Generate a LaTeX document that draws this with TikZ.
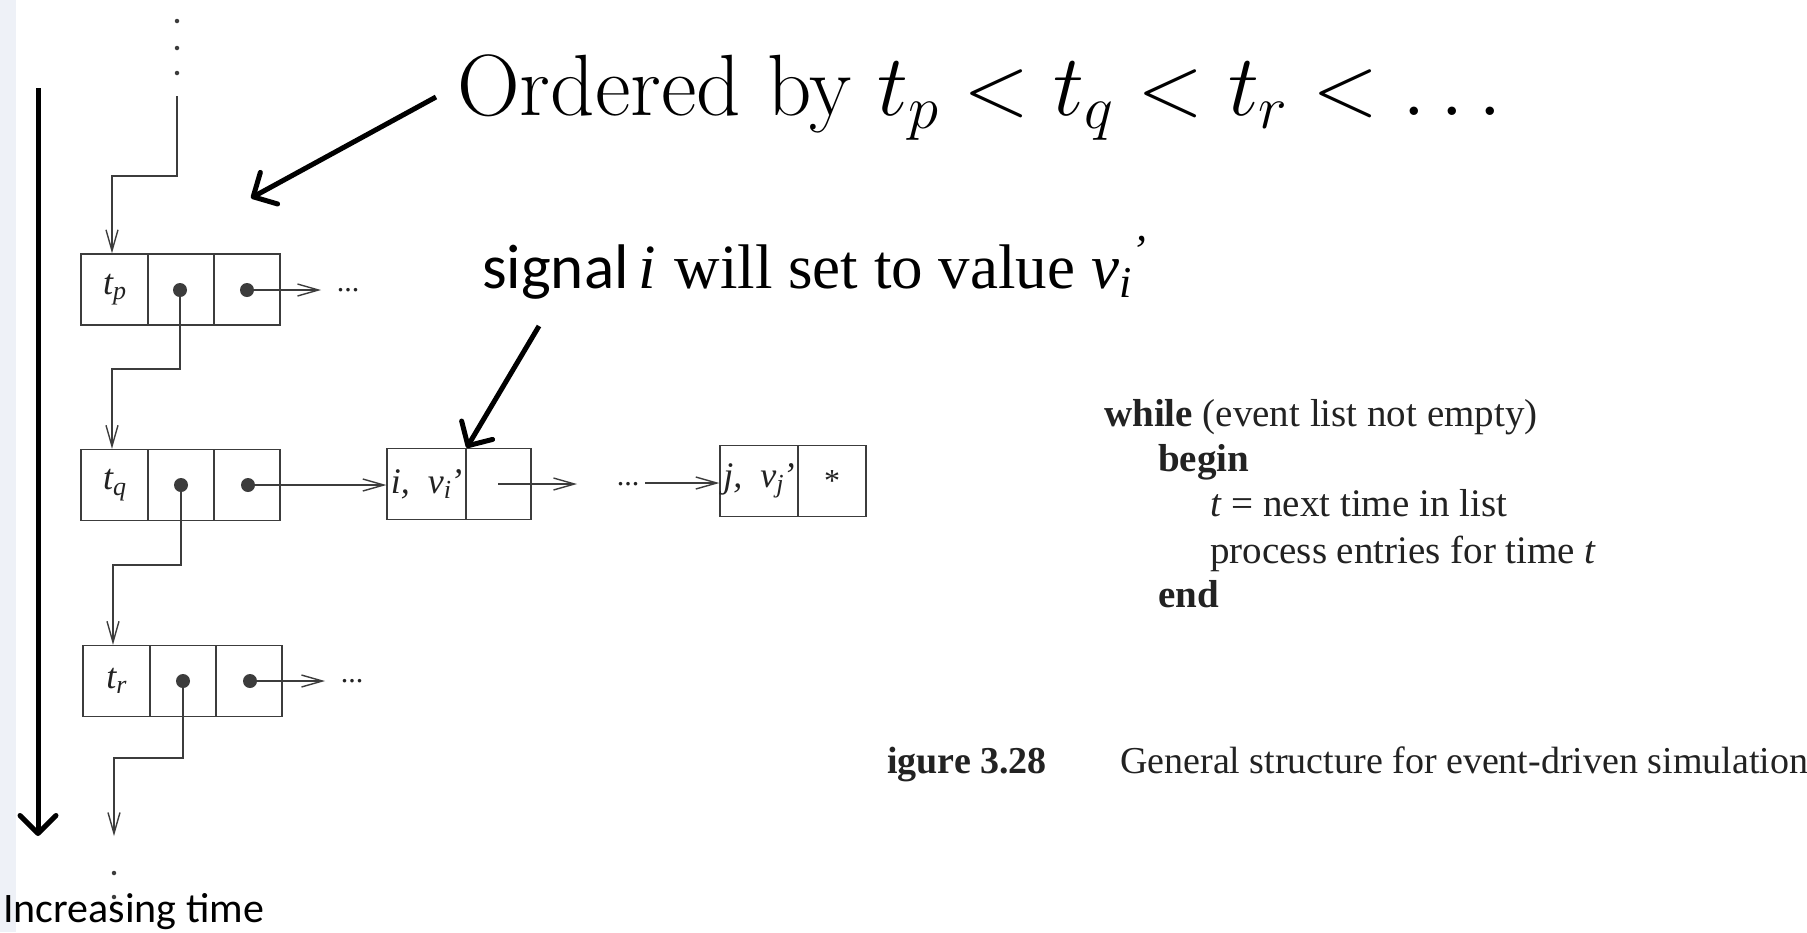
\RequirePackage{fix-cm}
\documentclass[tikz,border=0pt]{standalone}
\usepackage{fontspec}
\newfontfamily\timesf{Liberation Serif}
\newfontfamily\calibrif{Carlito}
\usetikzlibrary{arrows.meta}
\definecolor{ink}{HTML}{3C3C3C}
\definecolor{txt}{HTML}{222222}
\definecolor{strip}{HTML}{EEF1F7}
\newcommand\cellsub[1]{\raisebox{-0.32ex}{\fontsize{26}{26}\selectfont #1}}
\tikzset{
  cell/.style={draw=ink, line width=1.3pt, minimum height=71pt, inner sep=0pt,
    font=\timesf\itshape\fontsize{36}{36}\selectfont, text=txt},
  dotnode/.style={circle, fill=ink, inner sep=0pt, minimum size=14pt},
  smalldot/.style={circle, fill=ink, inner sep=0pt, minimum size=4.5pt},
  link/.style={draw=ink, line width=1.4pt, -{Straight Barb[length=21pt,width=12pt]}},
  fat/.style={draw=black, line width=5pt, -{Straight Barb[length=18pt,width=36pt,round]}},
  ell/.style={font=\timesf\fontsize{30}{30}\selectfont, text=txt, inner sep=0pt},
  codetxt/.style={font=\timesf\fontsize{39}{45}\selectfont, text=txt, anchor=base west, inner sep=0pt},
}
\begin{document}
\begin{tikzpicture}[x=1pt,y=-1pt]
\useasboundingbox (0,0) rectangle (1807,932);
\fill[white] (0,0) rectangle (1807,932);
\fill[strip] (0,0) rectangle (16,932);

% ---- top continuation dots
\node[smalldot] (d1) at (177,21) {};
\node[smalldot] (d2) at (177,48) {};
\node[smalldot] (d3) at (177,73) {};
\coordinate (top) at (177,96);

% ---- tp record
\node[cell, minimum width=67pt] (tp1) at (114.5,289.5) {t\cellsub{p}};
\node[cell, minimum width=66pt] (tp2) at (181,289.5) {};
\node[cell, minimum width=66pt] (tp3) at (247,289.5) {};
\node[dotnode] (tpd2) at (180,290) {};
\node[dotnode] (tpd3) at (247,290) {};
\coordinate (tpe) at (321,290);
\node[ell] (tpdots) at (348,290) {...};

% ---- tq record
\node[cell, minimum width=67pt] (tq1) at (114.5,485) {t\cellsub{q}};
\node[cell, minimum width=66pt] (tq2) at (181,485) {};
\node[cell, minimum width=66pt] (tq3) at (247,485) {};
\node[dotnode] (tqd2) at (181,485) {};
\node[dotnode] (tqd3) at (248,485) {};

% ---- tr record
\node[cell, minimum width=67pt] (tr1) at (116.5,681) {t\cellsub{r}};
\node[cell, minimum width=66pt] (tr2) at (183,681) {};
\node[cell, minimum width=66pt] (tr3) at (249,681) {};
\node[dotnode] (trd2) at (183,681) {};
\node[dotnode] (trd3) at (250,681) {};
\coordinate (tre) at (325,681);
\node[ell] (trdots) at (352,681) {...};

% ---- i / j entries
\node[cell, minimum width=79pt] (i1) at (426.5,484) {i,\ \ v\cellsub{i}\kern-1pt’};
\node[cell, minimum width=65pt] (i2) at (498.5,484) {};
\coordinate (i2s) at (498,484);
\coordinate (i2e) at (577,484);
\node[ell] (mdots) at (628,484) {...};
\coordinate (jst) at (645,483);
\node[cell, minimum width=78pt] (j1) at (759,481) {j,\ \ v\cellsub{j}\kern-1pt’};
\node[cell, minimum width=68pt, font=\timesf\fontsize{32}{32}\selectfont] (j2) at (832,481) {*};

% ---- bottom continuation dots
\node[smalldot] (b1) at (114,873) {};
\node[smalldot] (b2) at (114,897) {};

% ---- connectors
\coordinate (k0) at (112,176);
\draw[link] (top) |- (k0) -- (k0 |- tp1.north);
\coordinate (k1) at (112,369);
\draw[link] (tpd2.center) |- (k1) -- (k1 |- tq1.north);
\coordinate (k2) at (113,565);
\draw[link] (tqd2.center) |- (k2) -- (k2 |- tr1.north);
\coordinate (k3) at (114,758);
\coordinate (k4) at (114,836);
\draw[link] (trd2.center) |- (k3) -- (k4);

\draw[link] (tpd3.center) -- (tpe);
\draw[link] (trd3.center) -- (tre);
\draw[link] (tqd3.center) -- (tqd3.center -| i1.west);
\draw[link] (i2s) -- (i2e);
\draw[link] (jst) -- (jst -| j1.west);

% ---- time axis
\coordinate (ts) at (38,88);
\coordinate (te) at (38,836);
\draw[fat] (ts) -- (te);
\node[anchor=base west, inner sep=0pt, font=\calibrif\fontsize{42}{42}\selectfont] (inc) at (3,922) {Increasing time};

% ---- annotations
\node[anchor=base west, inner sep=0pt, font=\fontsize{87}{90}\selectfont] (ord) at (457,115) {Ordered by $t_p < t_q < t_r < \ldots$};
\coordinate (oa) at (436,97);
\coordinate (ob) at (251,198);
\draw[fat] (oa) -- (ob);

\node[anchor=base west, inner sep=0pt, font=\fontsize{63}{63}\selectfont] (sig) at (482,288)
  {{\calibrif signal}\hspace{0.15em}{\timesf\itshape i} {\timesf will set to value \itshape v\textsubscript{i}\textsuperscript{’}}};
\coordinate (sa) at (539,326);
\draw[fat] (sa) -- (i1.north east);

% ---- pseudo code
\node[codetxt] (c1) at (1104,426) {\textbf{while} (event list not empty)};
\node[codetxt] (c2) at (1158,471) {\textbf{begin}};
\node[codetxt] (c3) at (1210,516) {\textit{t} = next time in list};
\node[codetxt] (c4) at (1210,563) {process entries for time \textit{t}};
\node[codetxt] (c5) at (1158,607) {\textbf{end}};

% ---- caption
\node[codetxt, font=\timesf\fontsize{38}{38}\selectfont] (cap1) at (887,773) {\textbf{igure 3.28}};
\node[codetxt, font=\timesf\fontsize{38}{38}\selectfont] (cap2) at (1120,773) {General structure for event-driven simulation};
\end{tikzpicture}
\end{document}
